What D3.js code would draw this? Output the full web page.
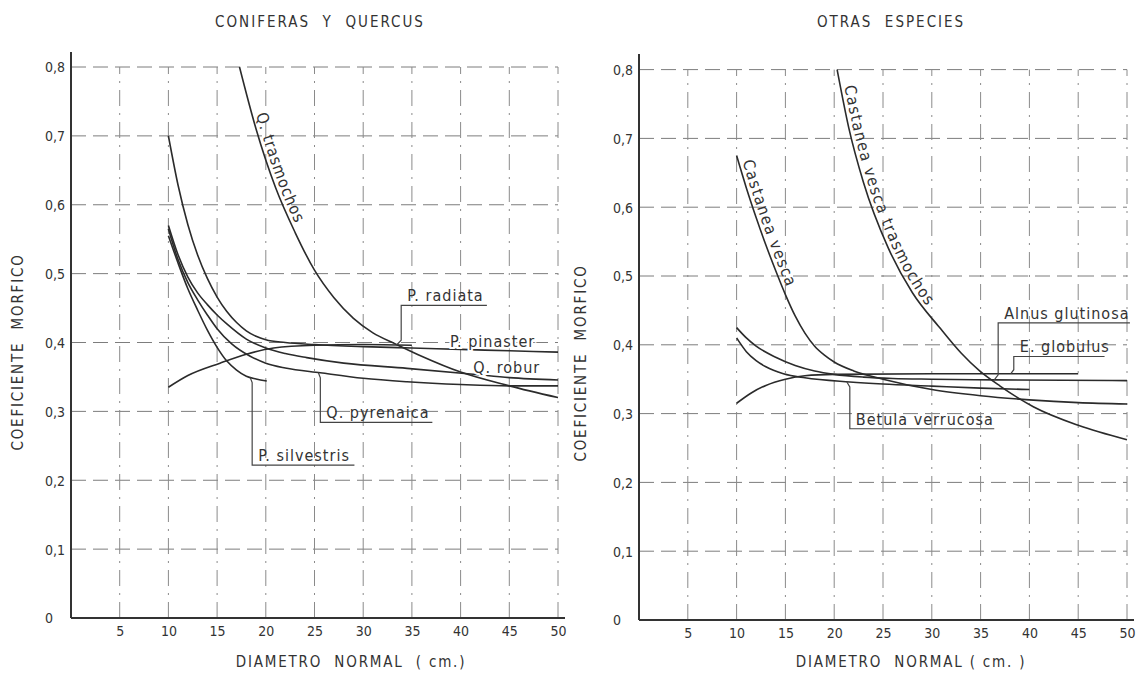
<!DOCTYPE html>
<html>
<head>
<meta charset="utf-8">
<script src="https://cdn.jsdelivr.net/npm/d3@7"></script>
<style>
  body { margin: 0; background: #fff; }
  svg { display: block; }
  text { font-family: "DejaVu Sans Condensed", "DejaVu Sans", sans-serif; fill: #333; }
</style>
</head>
<body>
<svg></svg>
<script>
// ticks
const xTicks = [5, 10, 15, 20, 25, 30, 35, 40, 45, 50];
const yTicks = [0, 0.1, 0.2, 0.3, 0.4, 0.5, 0.6, 0.7, 0.8];

// CONIFERAS Y QUERCUS  [diametro, coeficiente]
const qTrasmochos = [[17.3, 0.8], [19, 0.71], [21, 0.625], [23, 0.56], [25, 0.505], [27, 0.465], [29, 0.435], [31, 0.414], [33.3, 0.398], [36, 0.38], [40, 0.357], [45, 0.337], [50, 0.32]];
const pPinaster = [[10, 0.7], [11, 0.628], [12, 0.571], [13, 0.527], [14, 0.493], [15, 0.466], [16, 0.445], [17, 0.429], [18, 0.417], [19, 0.409], [20, 0.404], [22, 0.4], [25, 0.397], [30, 0.394], [35, 0.392], [40, 0.39], [45, 0.388], [50, 0.386]];
const qRobur = [[10, 0.57], [11, 0.527], [12, 0.495], [13, 0.472], [14, 0.455], [15, 0.44], [16, 0.427], [18, 0.405], [20, 0.392], [22, 0.384], [24.2, 0.378], [28, 0.37], [34.5, 0.3625], [41.3, 0.354], [45, 0.349], [50, 0.3455]];
const qPyrenaica = [[10, 0.565], [11, 0.52], [12, 0.487], [13, 0.462], [14, 0.44], [15, 0.42], [16.5, 0.398], [18.4, 0.38], [20, 0.37], [22, 0.363], [25.6, 0.356], [30, 0.348], [34.5, 0.343], [40, 0.339], [45, 0.337], [50, 0.337]];
const pSilvestris = [[10, 0.555], [11, 0.515], [12, 0.478], [13, 0.447], [14, 0.418], [15, 0.393], [16, 0.373], [17, 0.36], [18, 0.351], [19, 0.347], [20.1, 0.344]];
const pRadiata = [[10, 0.335], [12, 0.352], [15.3, 0.37], [18, 0.383], [20.8, 0.392], [25, 0.396], [30, 0.397], [35, 0.396]];

// OTRAS ESPECIES
const castaneaVesca = [[10, 0.675], [11, 0.628], [12, 0.585], [13, 0.545], [14, 0.508], [15, 0.473], [16, 0.442], [17, 0.417], [18, 0.398], [19, 0.385], [20, 0.375], [22, 0.362], [25, 0.35], [30, 0.335], [35, 0.326], [40, 0.32], [45, 0.316], [50, 0.314]];
const vescaTrasmochos = [[20.3, 0.8], [21.5, 0.715], [23, 0.636], [25.5, 0.542], [28, 0.476], [30.8, 0.425], [33, 0.388], [34.9, 0.362], [37, 0.34], [40.4, 0.31], [45, 0.283], [50, 0.262]];
const alnusGlutinosa = [[10, 0.425], [11, 0.41], [12, 0.398], [14, 0.382], [16, 0.37], [18, 0.362], [20, 0.357], [23, 0.353], [26, 0.351], [30, 0.35], [36.5, 0.349], [50, 0.348]];
const betulaVerrucosa = [[10, 0.41], [11, 0.39], [12, 0.377], [13, 0.368], [14.8, 0.358], [17, 0.352], [21.6, 0.346], [25, 0.343], [30, 0.34], [35, 0.337], [40, 0.335]];
const eGlobulus = [[10, 0.315], [11.5, 0.33], [13, 0.341], [15, 0.35], [17, 0.355], [20, 0.357], [30, 0.358], [45, 0.358]];

const width = 1140;
const height = 675;
const svg = d3.select('svg').attr('width', width).attr('height', height);

const fmtY = v => (v === 0 ? '0' : v.toFixed(1).replace('.', ','));

const drawPanel = p => {
  const x = d3.scaleLinear().domain([0, 50]).range([p.left, p.right]);
  const y = d3.scaleLinear().domain([0, 0.8]).range([p.bottom, p.top]);
  const g = svg.append('g');

  // grid
  g.selectAll('.hgrid')
    .data(yTicks.filter(d => d > 0))
    .enter()
    .append('line')
    .attr('x1', x(0))
    .attr('x2', x(50))
    .attr('y1', d => y(d))
    .attr('y2', d => y(d))
    .attr('stroke', '#7d7d7d')
    .attr('stroke-width', 1)
    .attr('stroke-dasharray', '15,7');
  g.selectAll('.vgrid')
    .data(xTicks)
    .enter()
    .append('line')
    .attr('x1', d => x(d))
    .attr('x2', d => x(d))
    .attr('y1', y(0))
    .attr('y2', y(0.8))
    .attr('stroke', '#8a8a8a')
    .attr('stroke-width', 1)
    .attr('stroke-dasharray', '16,7,2,7');

  // axes
  const xAxis = d3.axisBottom(x).tickValues(xTicks).tickSize(0).tickPadding(8);
  g.append('g')
    .attr('transform', `translate(0,${y(0)})`)
    .call(xAxis)
    .call(a => a.select('.domain').remove())
    .attr('font-family', null)
    .attr('font-size', 14)
    .selectAll('text')
    .attr('fill', '#333');

  const yAxis = d3.axisLeft(y).tickValues(yTicks).tickSize(0).tickFormat(fmtY);
  g.append('g')
    .attr('transform', `translate(${x(0)},0)`)
    .call(yAxis)
    .call(a => a.select('.domain').remove())
    .attr('font-family', null)
    .attr('font-size', 14)
    .selectAll('text')
    .attr('fill', '#333')
    .attr('text-anchor', 'start')
    .attr('x', -26)
    .attr('dy', '0.35em');

  g.append('line')
    .attr('x1', x(0)).attr('x2', x(0))
    .attr('y1', p.axisTop).attr('y2', y(0))
    .attr('stroke', '#333').attr('stroke-width', 2);
  g.append('line')
    .attr('x1', x(0)).attr('x2', x(50) + 7)
    .attr('y1', y(0)).attr('y2', y(0))
    .attr('stroke', '#333').attr('stroke-width', 2);

  // titles
  g.append('text')
    .attr('x', p.titleX).attr('y', 27)
    .attr('text-anchor', 'middle')
    .attr('font-size', 15)
    .attr('letter-spacing', 2)
    .style('white-space', 'pre')
    .text(p.title);
  g.append('text')
    .attr('transform', `translate(${p.yLabelX},${p.yLabelY}) rotate(-90)`)
    .attr('text-anchor', 'middle')
    .attr('font-size', 15)
    .attr('letter-spacing', 1.8)
    .style('white-space', 'pre')
    .text('COEFICIENTE  MORFICO');
  g.append('text')
    .attr('x', p.xLabelX).attr('y', 667)
    .attr('text-anchor', 'middle')
    .attr('font-size', 15)
    .attr('letter-spacing', 1.8)
    .style('white-space', 'pre')
    .text(p.xLabel);

  // curves
  const line = d3.line()
    .x(d => x(d[0]))
    .y(d => y(d[1]))
    .curve(d3.curveMonotoneX);

  p.series.forEach((s, i) => {
    const path = g.append('path')
      .attr('id', `${p.id}-c${i}`)
      .attr('d', line(s.values))
      .attr('fill', 'none')
      .attr('stroke', '#2b2b2b')
      .attr('stroke-width', 1.6);

    if (s.along) {
      // text written along the curve
      const node = path.node();
      let lo = 0;
      let hi = node.getTotalLength();
      const target = y(s.along);
      for (let k = 0; k < 30; ++k) {
        const mid = (lo + hi) / 2;
        if (node.getPointAtLength(mid).y < target) lo = mid;
        else hi = mid;
      }
      g.append('text')
        .attr('font-size', 16)
        .attr('letter-spacing', s.spacing)
        .attr('dy', -4)
        .append('textPath')
        .attr('href', `#${p.id}-c${i}`)
        .attr('startOffset', lo)
        .text(s.name);
    }
  });

  // leader labels
  p.leaders.forEach(l => {
    g.append('path')
      .attr('d', `M${x(l.end)},${y(l.lineV)}H${x(l.elbow)}V${y(l.tip[1]) + l.hook}L${x(l.tip[0])},${y(l.tip[1])}`)
      .attr('fill', 'none')
      .attr('stroke', '#444')
      .attr('stroke-width', 1.2);
    g.append('text')
      .attr('x', x(l.elbow) + 6)
      .attr('y', y(l.lineV) - 4)
      .attr('font-size', 16)
      .attr('letter-spacing', 1)
      .text(l.name);
  });

  p.plain.forEach(l => {
    g.append('text')
      .attr('x', x(l.at[0]))
      .attr('y', y(l.at[1]))
      .attr('font-size', 16)
      .attr('letter-spacing', 1)
      .attr('stroke', '#fff')
      .attr('stroke-width', 4)
      .attr('paint-order', 'stroke')
      .text(l.name);
  });
};

drawPanel({
  id: 'left',
  left: 71, right: 558, bottom: 618, top: 67, axisTop: 52,
  title: 'CONIFERAS  Y  QUERCUS', titleX: 320,
  yLabelX: 23, yLabelY: 352,
  xLabel: 'DIAMETRO  NORMAL  ( cm.)', xLabelX: 351,
  series: [
    { name: 'Q. trasmochos', values: qTrasmochos, along: 0.73, spacing: 1 },
    { name: 'P. pinaster', values: pPinaster },
    { name: 'Q. robur', values: qRobur },
    { name: 'Q. pyrenaica', values: qPyrenaica },
    { name: 'P. silvestris', values: pSilvestris },
    { name: 'P. radiata', values: pRadiata },
  ],
  leaders: [
    { name: 'P. radiata', tip: [33.4, 0.396], elbow: 33.9, lineV: 0.454, end: 42.7, hook: -5 },
    { name: 'Q. pyrenaica', tip: [25.4, 0.356], elbow: 25.6, lineV: 0.284, end: 37.1, hook: 5 },
    { name: 'P. silvestris', tip: [18.4, 0.349], elbow: 18.6, lineV: 0.222, end: 29.1, hook: 5 },
  ],
  plain: [
    { name: 'P. pinaster', at: [38.9, 0.393] },
    { name: 'Q. robur', at: [41.3, 0.355] },
  ],
});

drawPanel({
  id: 'right',
  left: 639, right: 1127, bottom: 620, top: 69.6, axisTop: 54,
  title: 'OTRAS  ESPECIES', titleX: 891,
  yLabelX: 586, yLabelY: 363,
  xLabel: 'DIAMETRO  NORMAL ( cm. )', xLabelX: 911,
  series: [
    { name: 'Castanea vesca', values: castaneaVesca, along: 0.665, spacing: 1.5 },
    { name: 'Castanea vesca trasmochos', values: vescaTrasmochos, along: 0.775, spacing: 1.5 },
    { name: 'Alnus glutinosa', values: alnusGlutinosa },
    { name: 'Betula verrucosa', values: betulaVerrucosa },
    { name: 'E. globulus', values: eGlobulus },
  ],
  leaders: [
    { name: 'Alnus glutinosa', tip: [36.4, 0.349], elbow: 36.8, lineV: 0.432, end: 50.3, hook: -5 },
    { name: 'E. globulus', tip: [38.1, 0.358], elbow: 38.4, lineV: 0.383, end: 47.7, hook: -4 },
    { name: 'Betula verrucosa', tip: [21.3, 0.346], elbow: 21.6, lineV: 0.278, end: 36.4, hook: 5 },
  ],
  plain: [],
});
</script>
</body>
</html>
